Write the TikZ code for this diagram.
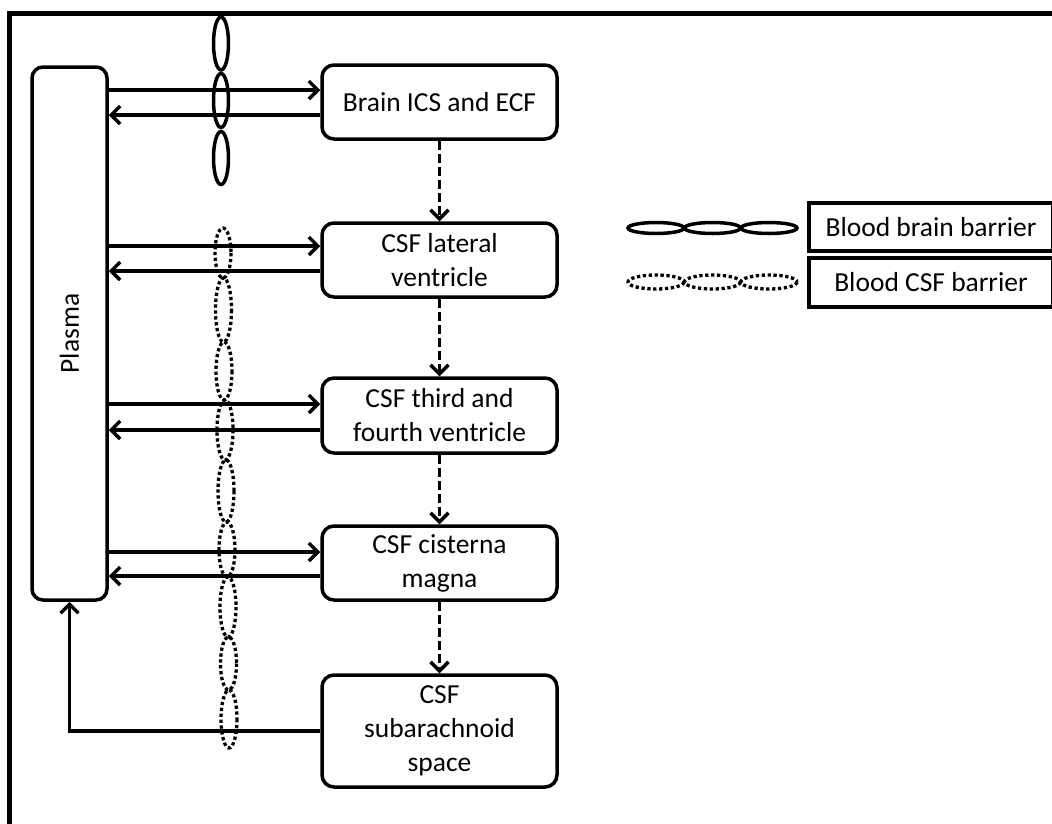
\documentclass[tikz,border=0pt]{standalone}
\usepackage{fontspec}
\setmainfont{Carlito}
\usetikzlibrary{arrows.meta,calc}
\begin{document}
\begin{tikzpicture}[x=1pt,y=-1pt,
  box/.style={draw,line width=3.5pt,rounded corners=12pt,align=center,inner sep=0pt,
    font=\fontsize{27.5}{34}\selectfont},
  arr/.style={line width=3.5pt,-{Straight Barb[length=9pt,width=18pt,line width=3.5pt]}},
  darr/.style={arr,dash pattern=on 9pt off 4pt},
  bbb/.style={draw,line width=3.5pt},
  bcsf/.style={draw,line width=3.3pt,dash pattern=on 3.3pt off 2.6pt},
  legbox/.style={draw,line width=3.5pt,font=\fontsize{27.5}{34}\selectfont}]
\useasboundingbox (0,0) rectangle (1052,823);
\clip (0,0) rectangle (1052,823);
% frame
\draw[line width=5pt] (9,830) -- (9,13) -- (1060,13);
% plasma
\node[box,minimum width=75pt,minimum height=533pt,rounded corners=11pt] (plasma) at (69.5,333.5) {};
\node[rotate=90,font=\fontsize{27.5}{34}\selectfont] (plasmatxt) at (plasma.center) {Plasma};
% compartments
\node[box,minimum width=235pt,minimum height=74pt] (brain) at (439.5,102) {Brain ICS and ECF};
\node[box,minimum width=235pt,minimum height=74pt] (lat) at (439.5,260) {CSF lateral\\ventricle};
\node[box,minimum width=235pt,minimum height=75pt] (third) at (439.5,415.5) {CSF third and\\fourth ventricle};
\node[box,minimum width=235pt,minimum height=74pt] (cist) at (439.5,563) {CSF cisterna\\magna};
\node[box,minimum width=235pt,minimum height=112pt] (sub) at (439.5,731) {CSF\\subarachnoid\\space};
% exchange arrows
\foreach \n/\u/\d in {brain/12/-13, lat/14/-11, third/11.5/-14.5, cist/11/-13}{
  \coordinate (\n-in) at ([yshift=\u pt]\n.west);
  \coordinate (\n-out) at ([yshift=\d pt]\n.west);
  \draw[arr] (plasma.east |- \n-in) -- (\n-in);
  \draw[arr] (\n-out) -- (plasma.east |- \n-out);
}
\draw[arr] (sub.west) -| (plasma.south);
% dashed flow
\draw[darr] (brain.south) -- (lat.north);
\draw[darr] (lat.south) -- (third.north);
\draw[darr] (third.south) -- (cist.north);
\draw[darr] (cist.south) -- (sub.north);
% blood brain barrier
\draw[bbb] (221,43.5) ellipse [x radius=7.5,y radius=26.5];
\draw[bbb] (221,100.5) ellipse [x radius=7.5,y radius=27];
\draw[bbb] (221,158) ellipse [x radius=7.5,y radius=26.5];
% blood csf barrier
\foreach \a/\b/\c in {228/278/223, 278/342/223.5, 342/400/224, 400/460/225, 460/522/226, 522/577/227, 577/637/228, 637/690/228.5, 690/748/229}{
  \pgfmathsetmacro{\ry}{(\b-\a)/2}
  \pgfmathsetmacro{\cy}{(\a+\b)/2}
  \draw[bcsf] (\c,\cy) ellipse [x radius=8,y radius=\ry];
}
% legend
\foreach \cx in {656,712.5,769}{
  \draw[bbb] (\cx,228) ellipse [x radius=28,y radius=5.5];
  \draw[bcsf] (\cx,282) ellipse [x radius=28,y radius=7];
}
\node[legbox,minimum width=244pt,minimum height=48pt] (lbbb) at (931,227) {Blood brain barrier};
\node[legbox,minimum width=244pt,minimum height=49pt] (lbcsf) at (931,282.5) {Blood CSF barrier};
\end{tikzpicture}
\end{document}
